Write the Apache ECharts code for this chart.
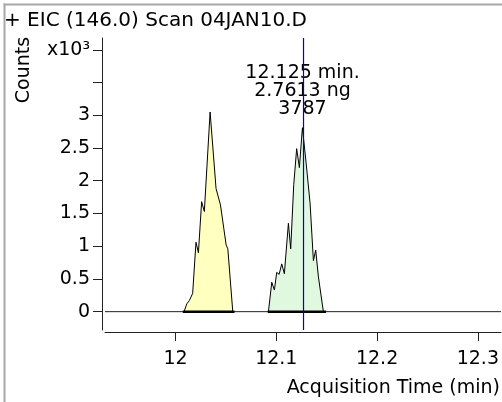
<!DOCTYPE html>
<html>
<head>
<meta charset="utf-8">
<script src="https://cdn.jsdelivr.net/npm/echarts@6/dist/echarts.min.js"></script>
<style>html,body{margin:0;padding:0;background:#fff;overflow:hidden}#c{width:502px;height:402px}</style>
</head>
<body>
<div id="c"></div>
<script>
// ---- data ----
const titleText = '+ EIC (146.0) Scan 04JAN10.D';
const xName = 'Acquisition Time (min)';
const yName = 'Counts';
const xTicks = [12, 12.1, 12.2, 12.3];
const yTicks = [0, 500, 1000, 1500, 2000, 2500, 3000, 3500, 4000];
const yLabels = [0, 500, 1000, 1500, 2000, 2500, 3000, 4000];
const peak1Time = [12.0085, 12.0112, 12.0137, 12.0170, 12.0203, 12.0227, 12.0259, 12.0286, 12.0343, 12.0402, 12.0446, 12.0502, 12.0519, 12.0568];
const peak1Counts = [0, 120, 170, 280, 1060, 900, 1680, 1530, 3050, 1880, 1630, 1020, 960, 0];
const peak2Time = [12.0922, 12.0955, 12.0981, 12.1004, 12.1028, 12.1054, 12.1080, 12.1120, 12.1143, 12.1173, 12.1202, 12.1229, 12.1259, 12.1294, 12.1335, 12.1368, 12.1391, 12.1418, 12.1467];
const peak2Counts = [0, 450, 330, 600, 570, 730, 580, 1350, 960, 1940, 2490, 2200, 2810, 2300, 1660, 780, 940, 530, 0];
const peak1Baseline = [12.0072, 12.0585];
const peak2Baseline = [12.0915, 12.1494];
const cursorTime = 12.127;
const annotation = ['12.125 min.', '2.7613 ng', '3787'];
const xRange = [11.93, 12.323];
const yRange = [-280, 4180];

const FONT = 'DejaVu Sans';
const zip = (a, b) => a.map((v, i) => [v, b[i]]);

const chart = echarts.init(document.getElementById('c'), null, {renderer: 'canvas'});
chart.setOption({
  animation: false,
  title: {text: titleText, left: 4, top: 11, padding: 0,
    textStyle: {fontFamily: FONT, fontSize: 20, fontWeight: 'normal', color: '#000'}},
  grid: {left: 105, right: 0, top: 38, bottom: 72},
  xAxis: {
    type: 'value', min: xRange[0], max: xRange[1], offset: 2,
    axisLine: {show: true, onZero: false, lineStyle: {color: '#222', width: 1}},
    axisTick: {show: true, length: 9, customValues: xTicks, lineStyle: {color: '#222'}},
    axisLabel: {customValues: xTicks, margin: 18, fontFamily: FONT, fontSize: 19, color: '#000',
      formatter: v => String(Math.round(v * 10) / 10)},
    splitLine: {show: false}
  },
  yAxis: {
    type: 'value', min: yRange[0], max: yRange[1], offset: 3,
    axisLine: {show: true, onZero: false, lineStyle: {color: '#222', width: 1}},
    axisTick: {show: true, length: 9, customValues: yTicks, lineStyle: {color: '#222'}},
    axisLabel: {customValues: yLabels, margin: 12, fontFamily: FONT, fontSize: 19, color: '#000',
      formatter: v => v === 4000 ? 'x10³' : String(v / 1000)},
    splitLine: {show: false}
  },
  series: [
    {type: 'line', data: [[xRange[0], 0], [xRange[1], 0]], symbol: 'none', silent: true,
      lineStyle: {color: '#222', width: 1}},
    {type: 'line', data: zip(peak1Time, peak1Counts), symbol: 'none',
      lineStyle: {color: '#000', width: 1}, areaStyle: {color: '#ffffc0', opacity: 1}},
    {type: 'line', data: zip(peak2Time, peak2Counts), symbol: 'none',
      lineStyle: {color: '#000', width: 1}, areaStyle: {color: '#e0f8e0', opacity: 1}},
    {type: 'line', data: peak1Baseline.map(t => [t, 0]), symbol: 'none', lineStyle: {color: '#000', width: 2.5}},
    {type: 'line', data: peak2Baseline.map(t => [t, 0]), symbol: 'none', lineStyle: {color: '#000', width: 2.5}},
    {type: 'line', data: [[cursorTime, yRange[0]], [cursorTime, yRange[1]]], symbol: 'none', z: 5,
      lineStyle: {color: '#0000d0', width: 1.2}}
  ]
});
const cx = chart.convertToPixel({xAxisIndex: 0, yAxisIndex: 0}, [cursorTime, 0])[0];
const graphics = [
  {type: 'line', shape: {x1: 4.5, y1: 3.5, x2: 4.5, y2: 402}, style: {stroke: '#a8a8a8', lineWidth: 2}},
  {type: 'line', shape: {x1: 3.5, y1: 4.5, x2: 502, y2: 4.5}, style: {stroke: '#a8a8a8', lineWidth: 2}},
  {type: 'text', x: 24, y: 70, rotation: Math.PI / 2,
    style: {text: yName, font: '19px "' + FONT + '"', fill: '#000', align: 'center', verticalAlign: 'middle'}},
  {type: 'text', x: 500, y: 388,
    style: {text: xName, font: '19px "' + FONT + '"', fill: '#000', align: 'right', verticalAlign: 'middle'}}
].concat(annotation.map((s, i) => ({type: 'text', x: cx - 1, y: 73 + i * 18,
  style: {text: s, font: '19px "' + FONT + '"', fill: '#000', align: 'center', verticalAlign: 'middle'}})));
chart.setOption({graphic: graphics});
</script>
</body>
</html>
